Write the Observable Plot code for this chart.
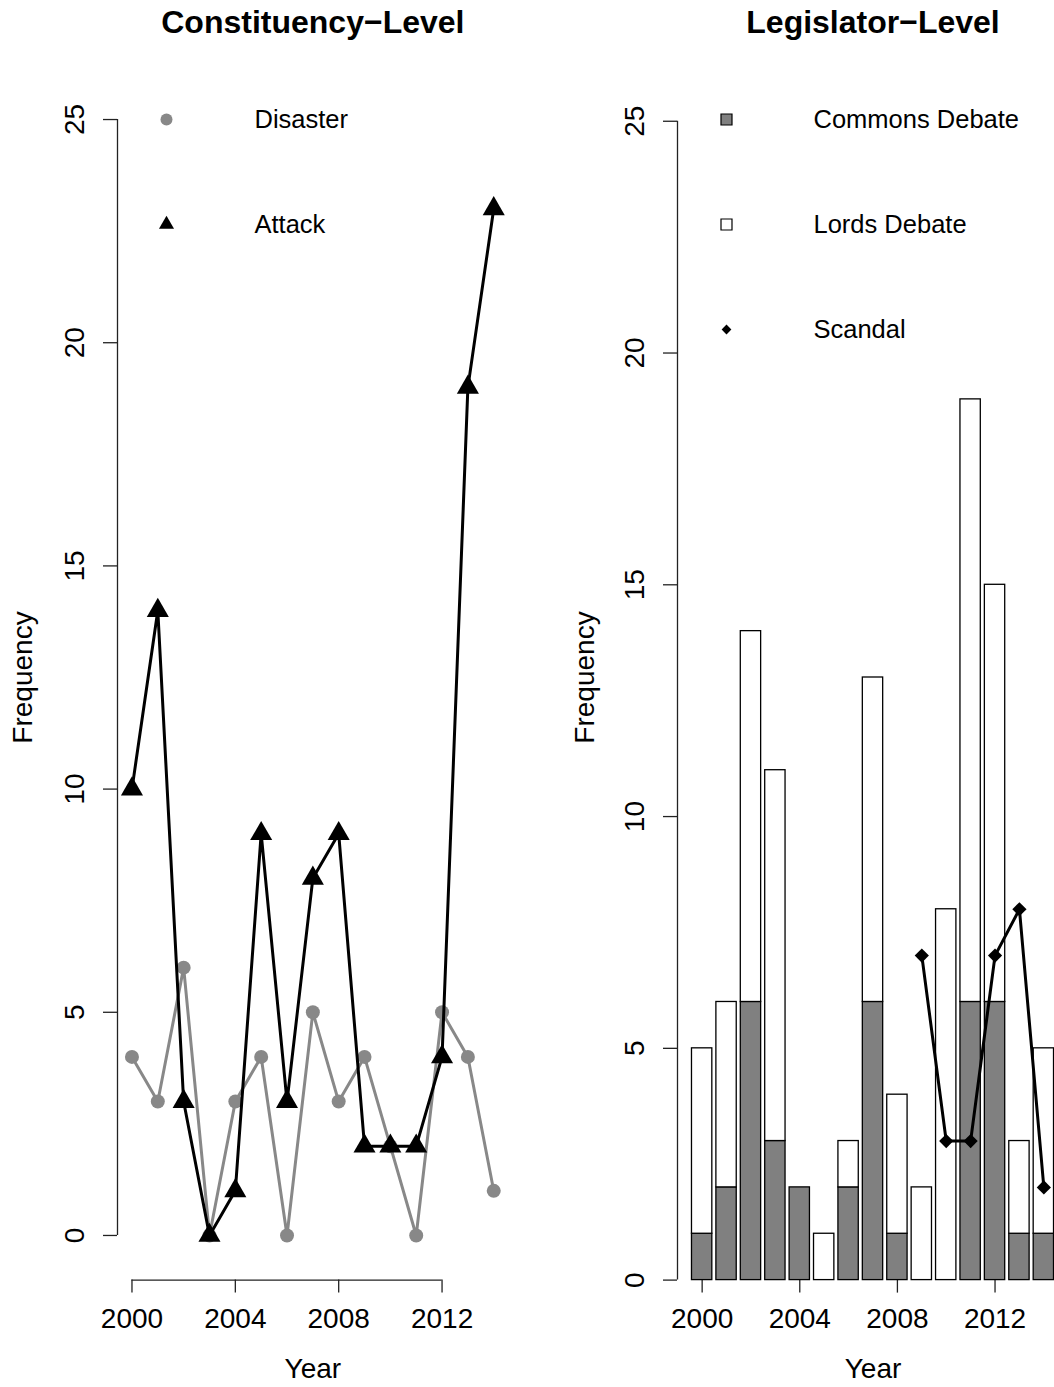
<!DOCTYPE html>
<html><head><meta charset="utf-8">
<script src="https://cdn.jsdelivr.net/npm/d3@7"></script>
<script src="https://cdn.jsdelivr.net/npm/@observablehq/plot@0.6"></script>
<style>
html,body{margin:0;padding:0;background:#fff;overflow:hidden;}
#wrap{position:relative;width:1054px;height:1387px;overflow:hidden;background:#fff;}
#left{position:absolute;left:0;top:0;}
#right{position:absolute;left:527px;top:0;}
</style></head><body>
<div id="wrap"><div id="left"></div><div id="right"></div></div>
<script>
// ---- data ----
const years = [2000,2001,2002,2003,2004,2005,2006,2007,2008,2009,2010,2011,2012,2013,2014];
const disaster = [4,3,6,0,3,4,0,5,3,4,2,0,5,4,1];
const attack = [10,14,3,0,1,9,3,8,9,2,2,2,4,19,23];
const commons = [1,2,6,3,2,0,2,6,1,0,0,6,6,1,1];
const lords = [4,4,8,8,0,1,1,7,3,2,8,13,9,2,4];
const scandalYears = [2009,2010,2011,2012,2013,2014];
const scandal = [7,3,3,7,8,2];
const xTicks = [2000,2004,2008,2012];
const yTicks = [0,5,10,15,20,25];
const titles = ["Constituency\u2212Level", "Legislator\u2212Level"];
const leftLegend = ["Disaster", "Attack"];
const rightLegend = ["Commons Debate", "Lords Debate", "Scandal"];

// ---- style ----
const FONT = "'Liberation Sans', Arial, Helvetica, sans-serif";
const AX = "#222";
const GRAY = "#888888";
const BARGRAY = "#808080";
const H = 1387, MT = 74.4, MB = 107.4;
const svgStyle = {fontFamily: FONT, background: "transparent", maxWidth: "none", overflow: "visible", color: "#000"};

const lineData = years.map((y, i) => ({year: y, disaster: disaster[i], attack: attack[i]}));
const barData = years.map((y, i) => ({year: y, commons: commons[i], total: commons[i] + lords[i]}));
const scData = scandalYears.map((y, i) => ({year: y, value: scandal[i]}));

function axisMarks(xmin, titleText, freqDx) {
  return [
    Plot.ruleX([xmin], {y1: yTicks[0], y2: yTicks[yTicks.length - 1], stroke: AX, strokeWidth: 1.3}),
    Plot.axisY(yTicks, {anchor: "left", tickSize: 14, tickFormat: () => "", stroke: AX, strokeWidth: 1.3}),
    Plot.text(yTicks, {y: d => d, text: d => String(d), frameAnchor: "left", dx: -42, rotate: -90,
      textAnchor: "middle", lineAnchor: "middle", fontSize: 28, fill: "#000"}),
    Plot.axisX(xTicks, {anchor: "bottom", tickSize: 13, tickFormat: () => "", stroke: AX, strokeWidth: 1.3}),
    Plot.text(xTicks, {x: d => d, text: d => String(d), frameAnchor: "bottom", dy: 38.5,
      textAnchor: "middle", lineAnchor: "middle", fontSize: 28, fill: "#000"}),
    Plot.text(["Year"], {text: d => d, frameAnchor: "bottom", dy: 88.5, textAnchor: "middle", lineAnchor: "middle", fontSize: 28, fill: "#000"}),
    Plot.text(["Frequency"], {text: d => d, frameAnchor: "left", dx: freqDx, rotate: -90, textAnchor: "middle", lineAnchor: "middle", fontSize: 28, fill: "#000"}),
    Plot.text([titleText], {text: d => d, frameAnchor: "top", dy: -52.4, textAnchor: "middle", lineAnchor: "middle", fontSize: 32, fontWeight: "bold", fill: "#000"})
  ];
}

// ---- left panel ----
const LX = [1999.44, 2014.56];
const left = Plot.plot({
  width: 527, height: H, marginTop: MT, marginBottom: MB, marginLeft: 117, marginRight: 19.3,
  x: {domain: LX, label: null},
  y: {domain: [-1, 26], label: null},
  style: svgStyle,
  marks: [
    ...axisMarks(LX[0], titles[0], -94),
    Plot.ruleY([-1], {x1: xTicks[0], x2: xTicks[xTicks.length - 1], stroke: AX, strokeWidth: 1.3}),
    Plot.line(lineData, {x: "year", y: "disaster", stroke: GRAY, strokeWidth: 3}),
    Plot.dot(lineData, {x: "year", y: "disaster", fill: GRAY, r: 7}),
    Plot.line(lineData, {x: "year", y: "attack", stroke: "#000", strokeWidth: 3}),
    Plot.dot(lineData, {x: "year", y: "attack", fill: "#000", symbol: "triangle", r: 8.2}),
    // legend
    Plot.dot([0], {frameAnchor: "top-left", dx: 49, dy: 44.6, fill: GRAY, r: 6}),
    Plot.dot([0], {frameAnchor: "top-left", dx: 49, dy: 149.6, fill: "#000", symbol: "triangle", r: 5.6}),
    ...leftLegend.map((t, i) => Plot.text([t], {text: d => d, frameAnchor: "top-left", dx: 137, dy: 44.6 + 105 * i,
      textAnchor: "start", lineAnchor: "middle", fontSize: 25.5, fill: "#000"}))
  ]
});
document.getElementById("left").appendChild(left);

// ---- right panel ----
const RX = [1998.99, 2015.01];
const HALF = 0.4167;
const right = Plot.plot({
  width: 541, height: H, marginTop: MT, marginBottom: MB, marginLeft: 150, marginRight: 0,
  x: {domain: RX, label: null},
  y: {domain: [0, 26], label: null},
  style: svgStyle,
  marks: [
    ...axisMarks(RX[0], titles[1], -92),
    Plot.rectY(barData, {x1: d => d.year - HALF, x2: d => d.year + HALF, y1: 0, y2: "commons", fill: BARGRAY, stroke: "#000", strokeWidth: 1.3}),
    Plot.rectY(barData, {x1: d => d.year - HALF, x2: d => d.year + HALF, y1: "commons", y2: "total", fill: "#fff", stroke: "#000", strokeWidth: 1.3}),
    Plot.line(scData, {x: "year", y: "value", stroke: "#000", strokeWidth: 3}),
    Plot.dot(scData, {x: "year", y: "value", fill: "#000", symbol: "diamond2", r: 6.4}),
    // legend
    Plot.dot([0], {frameAnchor: "top-left", dx: 49, dy: 44.6, fill: BARGRAY, stroke: "#000", strokeWidth: 1.2, symbol: "square", r: 6.2}),
    Plot.dot([0], {frameAnchor: "top-left", dx: 49, dy: 149.6, fill: "#fff", stroke: "#000", strokeWidth: 1.2, symbol: "square", r: 6.2}),
    Plot.dot([0], {frameAnchor: "top-left", dx: 49, dy: 254.6, fill: "#000", symbol: "diamond2", r: 4.4}),
    ...rightLegend.map((t, i) => Plot.text([t], {text: d => d, frameAnchor: "top-left", dx: 136, dy: 44.6 + 105 * i,
      textAnchor: "start", lineAnchor: "middle", fontSize: 25.5, fill: "#000"}))
  ]
});
document.getElementById("right").appendChild(right);
</script>
</body></html>
